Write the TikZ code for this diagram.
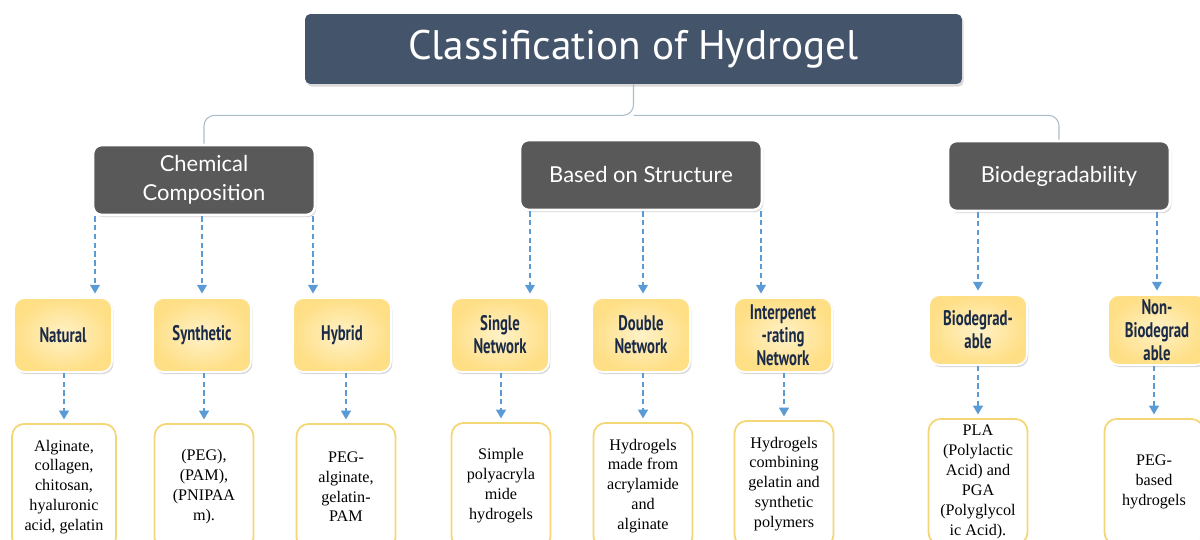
\documentclass[tikz,border=0pt]{standalone}
\usepackage{fontspec}
\setmainfont{Liberation Serif}
\newfontfamily\titlefont{PT Sans}
\newfontfamily\catfont{Lato}
\newfontfamily\subfont[FakeStretch=0.7]{PT Sans}
\usetikzlibrary{arrows.meta,shadows,calc}
\definecolor{slate}{HTML}{44546A}
\definecolor{catgrey}{HTML}{595959}
\definecolor{gold}{HTML}{FFDF86}
\definecolor{paleg}{HTML}{FFF2C8}
\definecolor{navy}{HTML}{1B2A47}
\definecolor{leafline}{HTML}{F3D676}
\definecolor{arrblue}{HTML}{5B9BD5}
\definecolor{braceline}{HTML}{A9BCCB}
\tikzset{
  titlebox/.style={fill=slate,rounded corners=3pt,minimum width=13.14cm,minimum height=1.4cm,
    text=white,font=\titlefont\fontsize{23.5}{28}\selectfont,
    drop shadow={shadow xshift=1pt,shadow yshift=-1.5pt,opacity=0.3}},
  catbox/.style={fill=catgrey,draw=white,line width=1.5pt,rounded corners=5pt,text=white,align=center,
    minimum height=1.4cm,font=\catfont\fontsize{12.5}{16.5}\selectfont,
    drop shadow={shadow xshift=0.8pt,shadow yshift=-1.2pt,opacity=0.35}},
  subbox/.style={inner color=paleg,outer color=gold,draw=white,line width=1pt,rounded corners=6pt,
    minimum width=1.96cm,minimum height=1.48cm,inner sep=1pt,align=center,text=navy,
    font=\subfont\bfseries\fontsize{12}{13.2}\selectfont,
    drop shadow={shadow xshift=0.8pt,shadow yshift=-1.2pt,opacity=0.3}},
  leafbox/.style={draw=leafline,line width=1pt,fill=white,rounded corners=7pt,anchor=north,
    minimum width=1.98cm,minimum height=2.52cm,align=center,font=\fontsize{9.2}{11.3}\selectfont},
  arr/.style={arrblue,line width=1.1pt,dash pattern=on 3pt off 2pt,shorten >=2pt,
    -{Triangle[width=5.5pt,length=5pt]}},
  brace/.style={braceline,line width=0.6pt,rounded corners=6pt}
}
\begin{document}
\begin{tikzpicture}[x=0.02cm,y=-0.02cm]
\useasboundingbox (0,0) rectangle (1200,540);
\clip (0,0) rectangle (1200,540);
\node[titlebox] (title) at (633.5,49) {Classification of Hydrogel};
\node[catbox,minimum width=4.44cm] (chem) at (204,180) {Chemical\\Composition};
\node[catbox,minimum width=4.84cm] (struct) at (641,175) {Based on Structure};
\node[catbox,minimum width=4.44cm] (biod) at (1059,176) {Biodegradability};
\coordinate (fork) at ($(title.south)+(0,31)$);
\draw[brace] (chem.north) |- (fork) -- (title.south);
\draw[brace] (biod.north) |- (fork);
\node[subbox] (nat) at (63,335) {Natural};
\node[subbox] (syn) at (202,335) {Synthetic};
\node[subbox] (hyb) at (342,335) {Hybrid};
\node[subbox] (sgl) at (500,335) {Single\\Network};
\node[subbox] (dbl) at (641,335) {Double\\Network};
\node[subbox] (ipn) at (783,335) {Interpenet\\-rating\\Network};
\node[subbox,minimum height=1.4cm] (bio) at (978,330) {Biodegrad-\\able};
\node[subbox,minimum height=1.4cm] (non) at (1157,330) {Non-\\Biodegrad\\able};
\node[leafbox,minimum width=2.08cm] (natl) at (64,423) {Alginate,\\collagen,\\chitosan,\\hyaluronic\\acid, gelatin};
\node[leafbox] (synl) at (204,423) {(PEG),\\(PAM),\\(PNIPAA\\m).};
\node[leafbox] (hybl) at (346,423) {PEG-\\alginate,\\gelatin-\\PAM};
\node[leafbox] (sgll) at (501,422) {Simple\\polyacryla\\mide\\hydrogels};
\node[leafbox] (dbll) at (643,422) {Hydrogels\\made from\\acrylamide\\and\\alginate};
\node[leafbox] (ipnl) at (784,420) {Hydrogels\\combining\\gelatin and\\synthetic\\polymers};
\node[leafbox] (biol) at (978,418) {PLA\\(Polylactic\\Acid) and\\PGA\\(Polyglycol\\ic Acid).};
\node[leafbox] (nonl) at (1154,418) {PEG-\\based\\hydrogels};
\draw[arr] (chem.south -| 95,0) -- (nat.north -| 95,0);
\draw[arr] (chem.south -| syn.north) -- (syn.north);
\draw[arr] (chem.south -| 313,0) -- (hyb.north -| 313,0);
\draw[arr] (struct.south -| 530,0) -- (sgl.north -| 530,0);
\draw[arr] (struct.south -| 643,0) -- (dbl.north -| 643,0);
\draw[arr] (struct.south -| 761,0) -- (ipn.north -| 761,0);
\draw[arr] (biod.south -| bio.north) -- (bio.north);
\draw[arr] (biod.south -| non.north) -- (non.north);
\foreach \s/\l in {nat/natl,syn/synl,hyb/hybl,sgl/sgll,dbl/dbll,ipn/ipnl,bio/biol,non/nonl}
  \draw[arr] (\s.south -| \l.north) -- (\l.north);
\end{tikzpicture}
\end{document}
